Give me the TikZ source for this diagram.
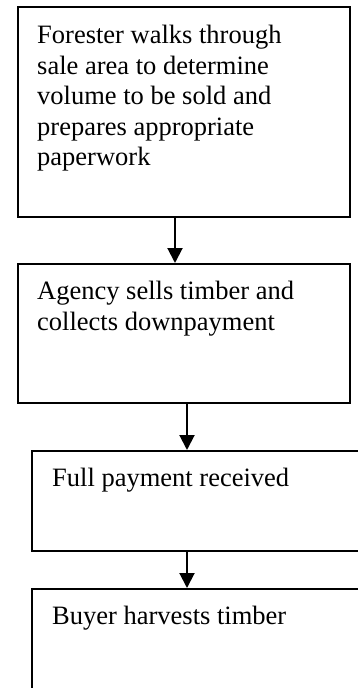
\documentclass[tikz,border=0pt]{standalone}
\usepackage{fontspec}
\setmainfont{Liberation Serif}
\usetikzlibrary{arrows.meta}

\begin{document}
\begin{tikzpicture}[x=1pt,y=-1pt]
\tikzset{font=\fontsize{26.5}{30.5}\selectfont}
\tikzset{box/.style={draw, line width=2pt, anchor=north west, inner sep=0pt}}
\tikzset{txt/.style={anchor=north west, align=left, inner sep=0pt}}
\tikzset{flow/.style={line width=2pt, -{Triangle[length=15pt,width=15pt]}}}
\clip (0,0) rectangle (358,688);
\node[box, minimum width=331.5pt, minimum height=210pt] (forester) at (17,6) {};
\node[box, minimum width=331.5pt, minimum height=139pt] (agency) at (17,263) {};
\node[box, minimum width=349pt, minimum height=100pt] (payment) at (31,450) {};
\node[box, minimum width=349pt, minimum height=100.5pt] (harvest) at (31,588) {};
\node[txt] (foresterT) at (37,25) {Forester walks through\\sale area to determine\\volume to be sold and\\prepares appropriate\\paperwork};
\node[txt] (agencyT) at (37,281) {Agency sells timber and\\collects downpayment};
\node[txt] (paymentT) at (52,468) {Full payment received};
\node[txt] (harvestT) at (52,606) {Buyer harvests timber};
\draw[flow] (175,0 |- forester.south) -- (175,0 |- agency.north);
\draw[flow] (187,0 |- agency.south) -- (187,0 |- payment.north);
\draw[flow] (187,0 |- payment.south) -- (187,0 |- harvest.north);
\end{tikzpicture}
\end{document}
